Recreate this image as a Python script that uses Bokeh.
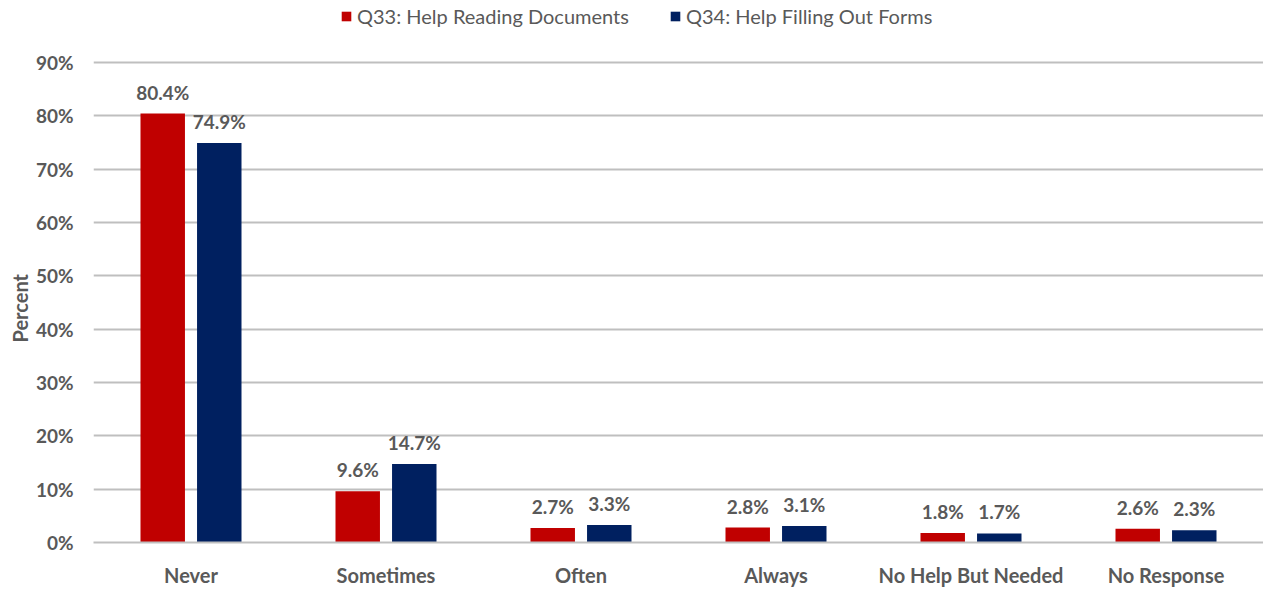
from bokeh.plotting import figure
from bokeh.models import ColumnDataSource, FactorRange, Legend, LegendItem, NumeralTickFormatter, LabelSet, FixedTicker, Title
from bokeh.core.properties import value
from bokeh.transform import dodge
from bokeh.embed import file_html
from bokeh.resources import INLINE

categories = ["Never", "Sometimes", "Often", "Always", "No Help But Needed", "No Response"]
q33 = [80.4, 9.6, 2.7, 2.8, 1.8, 2.6]
q34 = [74.9, 14.7, 3.3, 3.1, 1.7, 2.3]
series_names = ["Q33: Help Reading Documents", "Q34: Help Filling Out Forms"]
y_ticks = [0, 10, 20, 30, 40, 50, 60, 70, 80, 90]
y_title = "Percent"

RED = "#C00000"
NAVY = "#002060"
GRAY = "#595959"
FONT = "Lato"

src = ColumnDataSource(dict(
    cat=categories,
    q33=[v / 100 for v in q33],
    q34=[v / 100 for v in q34],
    l33=[f"{v:.1f}%" for v in q33],
    l34=[f"{v:.1f}%" for v in q34],
))

# y range extends above 90% to leave room for the legend inside the frame
p = figure(
    x_range=FactorRange(*categories, range_padding=0),
    y_range=(0, 1.016),
    width=1263, height=589,
    output_backend="svg", toolbar_location=None,
    min_border_left=93, min_border_right=0, min_border_top=0, min_border_bottom=46,
)

r1 = p.vbar(x=dodge("cat", -0.145, range=p.x_range), top="q33", width=0.228, source=src,
            fill_color=RED, line_color=None)
r2 = p.vbar(x=dodge("cat", 0.145, range=p.x_range), top="q34", width=0.228, source=src,
            fill_color=NAVY, line_color=None)

for xo, col, lab in [(-0.145, "q33", "l33"), (0.145, "q34", "l34")]:
    ls = LabelSet(x=dodge("cat", xo, range=p.x_range), y=col, text=lab, source=src,
                  text_align="center", text_baseline="bottom", y_offset=10,
                  text_font=value(FONT), text_font_style="bold", text_font_size="19px",
                  text_color=GRAY)
    p.add_layout(ls)

p.yaxis.ticker = FixedTicker(ticks=[t / 100 for t in y_ticks])
p.yaxis.formatter = NumeralTickFormatter(format="0%")
p.yaxis.axis_line_color = None
p.yaxis.major_tick_line_color = None
p.yaxis.minor_tick_line_color = None
p.yaxis.major_tick_out = 0
p.yaxis.major_tick_in = 0
p.yaxis.major_label_text_font = FONT
p.yaxis.major_label_text_font_style = "bold"
p.yaxis.major_label_text_font_size = "19px"
p.yaxis.major_label_text_color = GRAY
p.yaxis.major_label_standoff = 20

# y-axis title, placed beside the 0-90% span
ytitle = Title(text=y_title, align="left", offset=200, standoff=2,
               text_font=FONT, text_font_style="bold", text_font_size="20px",
               text_color=GRAY)
p.add_layout(ytitle, "left")

p.xaxis.axis_line_color = "#BFBFBF"
p.xaxis.axis_line_width = 2
p.xaxis.major_tick_line_color = None
p.xaxis.minor_tick_line_color = None
p.xaxis.major_tick_out = 0
p.xaxis.major_tick_in = 0
p.xaxis.major_label_text_font = FONT
p.xaxis.major_label_text_font_style = "bold"
p.xaxis.major_label_text_font_size = "20px"
p.xaxis.major_label_text_color = GRAY
p.xaxis.major_label_standoff = 20

p.xgrid.grid_line_color = None
p.ygrid.grid_line_color = "#BFBFBF"
p.ygrid.grid_line_width = 2
p.outline_line_color = None

legend = Legend(items=[LegendItem(label=series_names[0], renderers=[r1]),
                       LegendItem(label=series_names[1], renderers=[r2])],
                orientation="horizontal", location=(247, 514),
                label_text_font=FONT, label_text_font_size="20px", label_text_color=GRAY,
                glyph_width=12, glyph_height=12, label_standoff=5, spacing=40,
                background_fill_alpha=0, border_line_color=None, padding=0, margin=0)
p.add_layout(legend, "center")

open("out.html", "w").write(file_html(p, INLINE))
